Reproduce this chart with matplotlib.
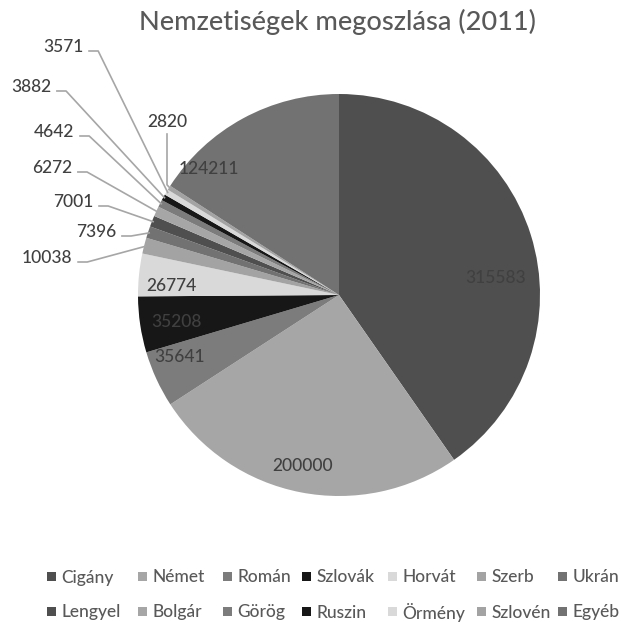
import matplotlib.pyplot as plt
from matplotlib.patches import Rectangle
import numpy as np

plt.rcParams['font.family'] = ['Lato', 'DejaVu Sans']
plt.rcParams['font.weight'] = 'medium'

nationalities = ['Cigány', 'Német', 'Román', 'Szlovák', 'Horvát', 'Szerb', 'Ukrán',
                 'Lengyel', 'Bolgár', 'Görög', 'Ruszin', 'Örmény', 'Szlovén', 'Egyéb']
population = [315583, 200000, 35641, 35208, 26774, 10038, 7396,
              7001, 6272, 4642, 3882, 3571, 2820, 124211]

# grey cycle as in the original (7 shades, repeated)
palette = ['#4f4f4f', '#a6a6a6', '#7c7c7c', '#171717', '#d9d9d9', '#a3a3a3', '#727272']
colors = [palette[i % len(palette)] for i in range(len(population))]

# work in pixel units of the 621x622 canvas (y up)
W, H = 621, 622
cx, cy, r = 339, H - 295, 201

# label placement (pixels from top-left), inside labels and leader-line labels
inner_pos = {0: (496, 278), 1: (303, 466), 2: (180, 357), 3: (176, 322),
             4: (171, 286), 13: (209, 169)}
outer_pos = {5: (47, 258), 6: (96, 232), 7: (73, 202), 8: (52, 168),
             9: (54, 132), 10: (31, 87), 11: (63, 47)}
top_pos = {12: (167, 122)}

# legend grid (square left edges and row centres, pixels)
leg_cols = [47, 138, 223, 302, 388, 477, 558]
leg_rows = [576, 611]

text_col = '#404040'
line_col = '#a6a6a6'
fs = 12.5

fig = plt.figure(figsize=(6.21, 6.22), dpi=100)
ax = fig.add_axes([0, 0, 1, 1])

wedges, _ = ax.pie(population, colors=colors, startangle=90, counterclock=False,
                   center=(cx, cy), radius=r, frame=True,
                   wedgeprops=dict(linewidth=0))
ax.set_xlim(0, W)
ax.set_ylim(0, H)
ax.set_aspect('equal')
ax.axis('off')

def edge_point(w, frac=1.0):
    th = np.deg2rad((w.theta1 + w.theta2) / 2)
    return cx + frac * r * np.cos(th), cy + frac * r * np.sin(th)

for i, (x, y) in inner_pos.items():
    ax.text(x, H - y, f'{population[i]}', ha='center', va='center',
            fontsize=fs, color=text_col)

renderer = fig.canvas.get_renderer()
for i, (x, y) in outer_pos.items():
    t = ax.text(x, H - y, f'{population[i]}', ha='center', va='center',
                fontsize=fs, color=text_col)
    bb = t.get_window_extent(renderer).transformed(ax.transData.inverted())
    ly = H - y - 4
    x0 = bb.x1 + 5
    ex, ey = edge_point(wedges[i], 0.99)
    ax.plot([x0, x0 + 10, ex], [ly, ly, ey], color=line_col, lw=1.2,
            solid_capstyle='butt')

for i, (x, y) in top_pos.items():
    t = ax.text(x, H - y, f'{population[i]}', ha='center', va='center',
                fontsize=fs, color=text_col)
    bb = t.get_window_extent(renderer).transformed(ax.transData.inverted())
    ex, ey = edge_point(wedges[i], 0.99)
    ax.plot([x, x, ex], [bb.y0 - 4, ey + 4, ey], color=line_col, lw=1.2)

ax.text(337, H - 22, 'Nemzetiségek megoszlása (2011)', ha='center',
        va='center', fontsize=19.5, color='#595959')

# legend: two rows of seven, drawn on a fixed grid
for k, name in enumerate(nationalities):
    lx = leg_cols[k % 7]
    ly = H - leg_rows[k // 7]
    ax.add_patch(Rectangle((lx, ly - 4.5), 9, 9, facecolor=colors[k], lw=0))
    ax.text(lx + 14.5, ly, name, ha='left', va='center_baseline',
            fontsize=fs, color='#595959')

fig.savefig('out.png', dpi=100, facecolor='white')
